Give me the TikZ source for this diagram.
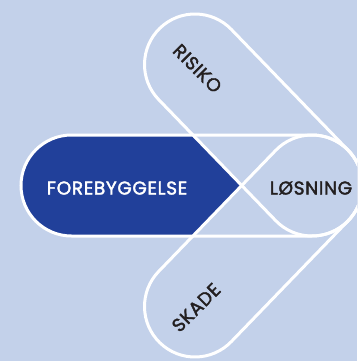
\documentclass[tikz,border=0pt]{standalone}
\usepackage{fontspec}
\setmainfont{Poppins}
\newfontfamily\labelfont{Poppins}[FakeBold=2.0, LetterSpace=3.5]
\usetikzlibrary{positioning}

\definecolor{paleblue}{HTML}{C3D1EA}
\definecolor{deepblue}{HTML}{21409A}
\definecolor{inkgrey}{HTML}{231F20}

% half height of a pill, and the pill itself (from the origin along x)
\newcommand{\pr}{50.5}
\newcommand{\pill}[1]{(0,-\pr) -- (#1,-\pr) arc[start angle=-90,end angle=90,radius=\pr] -- (0,\pr) arc[start angle=90,end angle=270,radius=\pr] -- cycle}

\tikzset{
	outline/.style={draw=white, line width=3pt},
	word/.style={font=\labelfont\fontsize{18.5}{20}\selectfont, inner sep=0pt, text depth=0pt},
}

\begin{document}
\begin{tikzpicture}[x=1pt,y=-1pt]
	\useasboundingbox (0,0) rectangle (357,361);
	\clip (0,0) rectangle (357,361);
	\fill[paleblue] (0,0) rectangle (357,361);

	\coordinate (left) at (71.5,185.5);
	\coordinate (top) at (195,64.5);
	\coordinate (bottom) at (195,306.5);

	% fills
	\fill[deepblue, shift={(left)}] \pill{240.5};
	\fill[paleblue, shift={(top)}, rotate=-45.97] \pill{168.3};
	\fill[paleblue, shift={(bottom)}, rotate=45.97] \pill{168.3};

	% white outlines on top
	\draw[outline, shift={(left)}] \pill{240.5};
	\draw[outline, shift={(top)}, rotate=-45.97] \pill{168.3};
	\draw[outline, shift={(bottom)}, rotate=45.97] \pill{168.3};

	\node[word, text=white] (prevent) at (117,188) {FOREBYGGELSE};
	\node[word, text=inkgrey] (solve) at (311,188) {LØSNING};
	\node[word, text=inkgrey, rotate=-45] (risk) at (197.5,68.5) {RISIKO};
	\node[word, text=inkgrey, rotate=45] (harm) at (196,307.5) {SKADE};
\end{tikzpicture}
\end{document}
